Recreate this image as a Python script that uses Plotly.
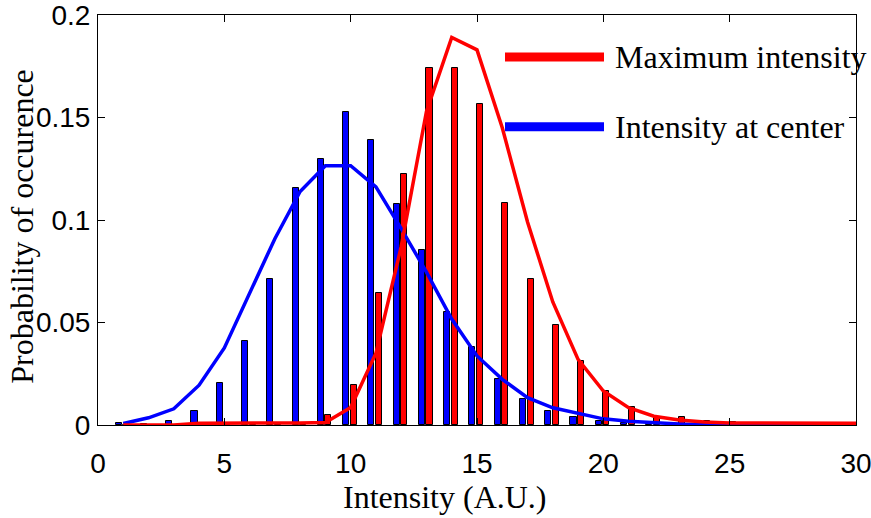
import plotly.graph_objects as go

intensity = list(range(1, 31))

center_bars = [0.001, 0.0005, 0.002, 0.007, 0.0203, 0.041, 0.0713, 0.1154, 0.130, 0.1525,
               0.1388, 0.1076, 0.0852, 0.055, 0.0381, 0.0226, 0.0128, 0.0068, 0.004, 0.0019,
               0.001, 0.001, 0.0004, 0.0003, 0.0, 0.0, 0.0, 0.0, 0.0, 0.0]
max_bars = [0.0, 0.0, 0.0, 0.0, 0.0005, 0.0, 0.0, 0.0, 0.0048, 0.0195,
            0.0644, 0.1224, 0.1742, 0.1742, 0.1566, 0.1085, 0.0713, 0.0488, 0.0313, 0.0165,
            0.0087, 0.0035, 0.0037, 0.0019, 0.0015, 0.001, 0.0005, 0.0003, 0.0003, 0.0003]

center_fit = [0.0007, 0.0035, 0.0079, 0.0194, 0.0376, 0.0645, 0.0909, 0.1139, 0.1265, 0.1265,
              0.1162, 0.0958, 0.0746, 0.0517, 0.0337, 0.0223, 0.0133, 0.0084, 0.0055, 0.003,
              0.0018, 0.001, 0.0005, 0.0003, 0.0002, 0.0001, 0.0, 0.0, 0.0, 0.0]
max_fit = [0.0, 0.0, 0.0, 0.0008, 0.001, 0.001, 0.001, 0.001, 0.0012, 0.0085,
           0.035, 0.087, 0.153, 0.189, 0.183, 0.145, 0.099, 0.060, 0.032, 0.0166,
           0.0084, 0.0043, 0.0024, 0.0015, 0.001, 0.001, 0.001, 0.001, 0.001, 0.0008]

legend_labels = ["Maximum intensity", "Intensity at center"]
x_ticks = [0, 5, 10, 15, 20, 25, 30]
y_ticks = [0, 0.05, 0.1, 0.15, 0.2]

BLUE = "#0000FF"
RED = "#FF0000"

fig = go.Figure()
fig.add_trace(go.Bar(x=intensity, y=center_bars, offset=-0.30, width=0.24,
                     marker=dict(color=BLUE, line=dict(color="black", width=1)),
                     showlegend=False))
fig.add_trace(go.Bar(x=intensity, y=max_bars, offset=0.0, width=0.24,
                     marker=dict(color=RED, line=dict(color="black", width=1)),
                     showlegend=False))
fig.add_trace(go.Scatter(x=intensity, y=center_fit, mode="lines",
                         line=dict(color=BLUE, width=3.5), showlegend=False))
fig.add_trace(go.Scatter(x=intensity, y=max_fit, mode="lines",
                         line=dict(color=RED, width=3.5), showlegend=False))

W, H = 871, 518
L, R, T, B = 98, 15, 15, 92.5
pw = W - L - R
ph = H - T - B

def px(xp):
    return (xp - L) / pw

def py(yp):
    return (H - B - yp) / ph

SERIF = "Liberation Serif"
FS = 32

# manual legend
for lab, col, yp in [(legend_labels[0], RED, 57), (legend_labels[1], BLUE, 127)]:
    fig.add_shape(type="line", xref="paper", yref="paper",
                  x0=px(505), x1=px(604), y0=py(yp), y1=py(yp),
                  line=dict(color=col, width=9))
    fig.add_annotation(text=lab, xref="paper", yref="paper", x=px(613), y=py(yp),
                       xanchor="left", yanchor="middle", showarrow=False,
                       font=dict(family=SERIF, size=FS, color="black"))

fig.add_annotation(text="Intensity (A.U.)", xref="paper", yref="paper",
                   x=px(444.6), y=py(498), xanchor="center", yanchor="middle",
                   showarrow=False, font=dict(family=SERIF, size=FS, color="black"))
fig.add_annotation(text="Probability of occurence", xref="paper", yref="paper",
                   x=px(22), y=py(227), xanchor="center", yanchor="middle", textangle=-90,
                   showarrow=False, font=dict(family=SERIF, size=FS, color="black"))

axis_common = dict(showline=True, linecolor="black", linewidth=1, mirror="allticks",
                   ticks="inside", ticklen=7, tickcolor="black", showgrid=False,
                   zeroline=False, automargin=False, ticklabeloverflow="allow",
                   tickfont=dict(family="Liberation Sans", size=28, color="black"))

fig.update_layout(
    width=W, height=H,
    margin=dict(l=L, r=R, t=T, b=B),
    paper_bgcolor="white", plot_bgcolor="white",
    barmode="overlay", bargap=0,
    xaxis=dict(range=[0, 30], tickvals=x_ticks, ticktext=[str(v) for v in x_ticks],
               ticklabelstandoff=13, **axis_common),
    yaxis=dict(range=[0, 0.2], tickvals=y_ticks, ticktext=["0", "0.05", "0.1", "0.15", "0.2"],
               ticklabelstandoff=1, **axis_common),
)

fig.write_html("out.html")
